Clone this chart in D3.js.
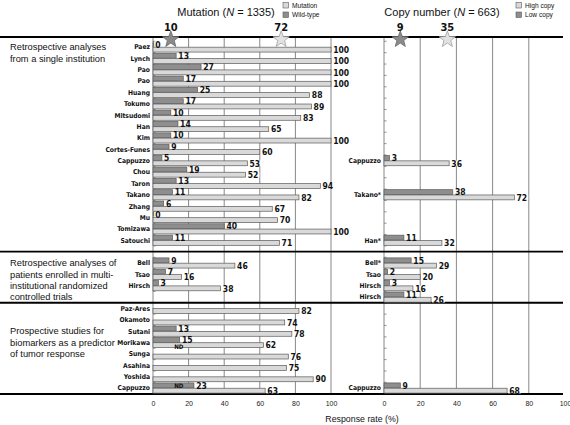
<!DOCTYPE html>
<html><head><meta charset="utf-8">
<script src="https://cdn.jsdelivr.net/npm/d3@7/dist/d3.min.js"></script>
<style>
body{margin:0;background:#fff;}
svg{display:block;}
</style></head>
<body>
<svg id="chart" width="570" height="425"></svg>
<script>
// ---------- data ----------
const leftLabels = ["Paez","Lynch","Pao","Pao","Huang","Tokumo","Mitsudomi","Han","Kim","Cortes-Funes","Cappuzzo","Chou","Taron","Takano","Zhang","Mu","Tomizawa","Satouchi","","Bell","Tsao","Hirsch","","Paz-Ares","Okamoto","Sutani","Morikawa","Sunga","Asahina","Yoshida","Cappuzzo"];
const mutationRate = [100,100,100,100,88,89,83,65,100,60,53,52,94,82,67,70,100,71,null,46,16,38,null,82,74,78,62,76,75,90,63];
const wildTypeRate = [0,13,27,17,25,17,10,14,10,9,5,19,13,11,6,0,40,11,null,9,7,3,null,null,null,13,15,null,null,null,23];
const ndNotes = [{row:26, band:"low"},{row:30, band:"high"}];
const rightRows = [10,13,17,19,20,21,22,30];
const rightLabels = ["Cappuzzo","Takano*","Han*","Bell*","Tsao","Hirsch","Hirsch","Cappuzzo"];
const highCopyRate = [36,72,32,29,20,16,26,68];
const lowCopyRate = [3,38,11,15,2,3,11,9];
const mutationStars = [{v:10,kind:"dark"},{v:72,kind:"light"}];
const copyStars = [{v:9,kind:"dark"},{v:35,kind:"light"}];
const xTicks = [0,20,40,60,80,100];
const sections = [
  {rows:[0,1], lines:["Retrospective analyses","from a single institution"]},
  {rows:[19,20,21,22], lines:["Retrospective analyses of","patients enrolled in multi-","institutional randomized","controlled trials"]},
  {rows:[25,26,27], lines:["Prospective studies for","biomarkers as a predictor","of tumor response"]}
];

// ---------- styles ----------
const DARK = "#8e8e8e", LIGHT = "#d9d9d9", EDGE = "#5a5a5a";
const LBLFONT = "'DejaVu Sans Condensed','DejaVu Sans',sans-serif";
const TXTFONT = "'Liberation Sans',Arial,sans-serif";

const svg = d3.select("#chart");
const x1 = d3.scaleLinear().domain([0,100]).range([153,331]);
const x2 = d3.scaleLinear().domain([0,100]).range([384,565]);
const y = d3.scaleBand().domain(d3.range(leftLabels.length)).range([41.3,393.7]);
const bw = y.bandwidth();
const yc = i => y(i) + bw/2;
const TOP = 37, BOTTOM = 394;

// gridlines
function grid(x, vals){
  svg.append("g").selectAll("line").data(vals).join("line")
    .attr("x1", d=>x(d)).attr("x2", d=>x(d)).attr("y1", TOP).attr("y2", BOTTOM)
    .attr("stroke", "#7a7a7a").attr("stroke-width", 0.9);
  svg.append("g").selectAll("line").data(d3.range(leftLabels.length+1)).join("line")
    .attr("x1", x(0)).attr("x2", x(0)+2.5)
    .attr("y1", d=>41.3 + d*bw).attr("y2", d=>41.3 + d*bw)
    .attr("stroke", "#7a7a7a").attr("stroke-width", 0.8);
}
grid(x1, xTicks);
grid(x2, [0,20,40,60,80]);

// horizontal section lines
const hl = [TOP, yc(18), (yc(22)+yc(23))/2, BOTTOM];
svg.append("g").selectAll("line").data(hl).join("line")
  .attr("x1", 0).attr("x2", 563).attr("y1", d=>d).attr("y2", d=>d)
  .attr("stroke", "#000").attr("stroke-width", 1.8);

// bars
const dTop = i => y(i) + 0.6, dH = bw/2 - 0.8;
const lTop = i => y(i) + bw/2 + 0.2;

function drawPanel(x, rows, lowVals, highVals, labels){
  const gBg = svg.append("g"), gBar = svg.append("g"), gTxt = svg.append("g");
  rows.forEach((r, k) => {
    const lo = lowVals[k], hi = highVals[k];
    [[lo, dTop(r), DARK],[hi, lTop(r), LIGHT]].forEach(([v, top, fill]) => {
      if (v === null || v === undefined) return;
      gBar.append("rect").attr("x", x(0)).attr("y", top)
        .attr("width", Math.max(x(v)-x(0), 0.8)).attr("height", dH)
        .attr("fill", fill).attr("stroke", EDGE).attr("stroke-width", 0.7);
      const t = gTxt.append("text").attr("x", x(v)+2.2).attr("y", top + dH/2 + 3.2)
        .attr("font-family", LBLFONT).attr("font-weight", "bold").attr("font-size", 8.5)
        .attr("fill", "#111").text(v);
      const w = t.node().getComputedTextLength();
      gBg.append("rect").attr("x", x(v)+1).attr("y", top-0.3).attr("width", w+2.2).attr("height", dH+0.6)
        .attr("fill", "#fff");
    });
    if (labels[k]) {
      gTxt.append("text").attr("x", x(0)-3).attr("y", yc(r)+2.4).attr("text-anchor","end")
        .attr("font-family", LBLFONT).attr("font-weight","bold").attr("font-size", 6.7)
        .attr("fill", "#111").text(labels[k]);
    }
  });
  return gTxt;
}
const leftRows = d3.range(leftLabels.length);
const gl = drawPanel(x1, leftRows, wildTypeRate, mutationRate, leftLabels);
drawPanel(x2, rightRows, lowCopyRate, highCopyRate, rightLabels);

// ND notes
ndNotes.forEach(n => {
  const top = n.band === "low" ? lTop(n.row) : dTop(n.row);
  const dy = n.band === "low" ? 3.4 : 2.5;
  gl.append("text").attr("x", x1(14.5)).attr("y", top + dH/2 + dy).attr("text-anchor","middle")
    .attr("font-family", LBLFONT).attr("font-weight","bold").attr("font-size", 6.2)
    .attr("fill", "#111").text("ND");
});

// section text
sections.forEach(s => {
  svg.append("g").selectAll("text").data(s.lines).join("text")
    .attr("x", 10).attr("y", (d,i)=>yc(s.rows[0]) + i*bw + 3.3)
    .attr("font-family", TXTFONT).attr("font-size", 9.3).attr("fill", "#111").text(d=>d);
});

// stars
const starPath = (cx, cy, R, r) => {
  const pts = [];
  for (let i=0;i<10;i++){
    const a = -Math.PI/2 + i*Math.PI/5, rr = i%2===0 ? R : r;
    pts.push([cx + rr*Math.cos(a), cy + rr*Math.sin(a)]);
  }
  return "M" + pts.map(p=>p.join(",")).join("L") + "Z";
};
function stars(x, list){
  list.forEach(s => {
    svg.append("path").attr("d", starPath(x(s.v), 39.5, 8.6, 3.6))
      .attr("fill", s.kind==="dark" ? "#8a8a8a" : "#e2e2e2")
      .attr("stroke", s.kind==="dark" ? "#6a6a6a" : "#a0a0a0").attr("stroke-width", 0.8);
    svg.append("text").attr("x", x(s.v)).attr("y", 30.5).attr("text-anchor","middle")
      .attr("font-family", LBLFONT).attr("font-weight","bold").attr("font-size", 11)
      .attr("fill", "#111").text(s.v);
  });
}
stars(x1, mutationStars);
stars(x2, copyStars);

// axes (tick labels)
function axis(x){
  const g = svg.append("g").attr("transform", `translate(0,${BOTTOM+4})`)
    .call(d3.axisBottom(x).tickValues(xTicks).tickSize(0).tickFormat(d3.format("d")));
  g.select(".domain").remove();
  g.selectAll("text").attr("font-family", TXTFONT).attr("font-size", 7).attr("fill", "#222");
}
axis(x1); axis(x2);
svg.append("text").attr("x", 362).attr("y", 422).attr("text-anchor","middle")
  .attr("font-family", TXTFONT).attr("font-size", 8.8).attr("fill","#111").text("Response rate (%)");

// titles
function title(xc, main, n){
  const t = svg.append("text").attr("x", xc).attr("y", 16).attr("text-anchor","middle")
    .attr("font-family", TXTFONT).attr("font-size", 11).attr("fill","#111");
  t.append("tspan").text(main + " (");
  t.append("tspan").attr("font-style","italic").text("N");
  t.append("tspan").text(" = " + n + ")");
}
title(226, "Mutation", 1335);
title(442, "Copy number", 663);

// legends
function legend(x0, names){
  names.forEach((nm, i) => {
    svg.append("rect").attr("x", x0).attr("y", 2.5 + i*9.5).attr("width", 5.5).attr("height", 5.5)
      .attr("fill", i===0 ? LIGHT : DARK).attr("stroke", EDGE).attr("stroke-width", 0.6);
    svg.append("text").attr("x", x0 + 9).attr("y", 7.7 + i*9.5)
      .attr("font-family", TXTFONT).attr("font-size", 6.6).attr("fill","#111").text(nm);
  });
}
legend(283, ["Mutation","Wild-type"]);
legend(516, ["High copy","Low copy"]);
</script>
</body></html>
